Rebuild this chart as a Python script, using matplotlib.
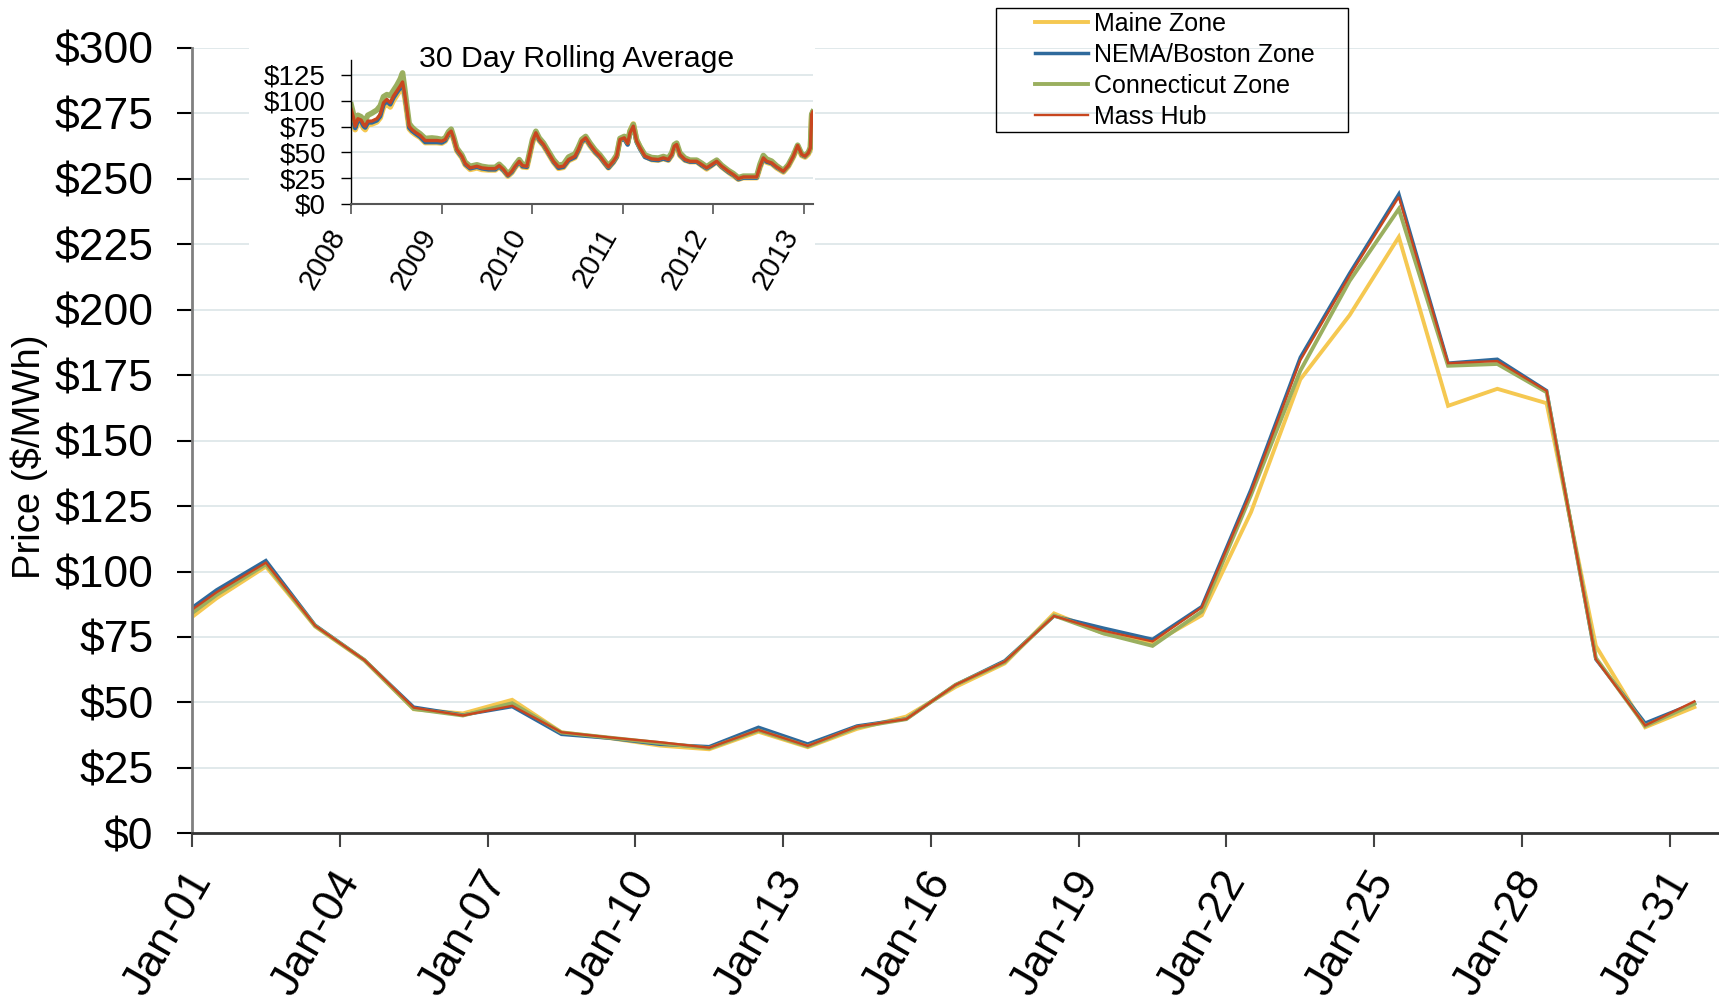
#Imports
import numpy as np
import pandas as pd
import matplotlib
matplotlib.use('Agg')
import matplotlib.pyplot as plt
from matplotlib.ticker import MultipleLocator, FuncFormatter
from matplotlib.transforms import ScaledTranslation
from matplotlib.patches import Rectangle

plt.rcParams['font.family'] = ['Liberation Sans', 'DejaVu Sans']

#Daily prices, Dec-31 to Jan-31 (plotted at noon of each day)
days = pd.date_range('2012-12-31 12:00', '2013-01-31 12:00', freq='D')
maine = [75.4, 89.8, 101.9, 79.0, 66.0, 47.4, 45.8, 51.0, 38.6, 36.3, 33.5, 32.1, 38.8, 32.9, 39.9, 44.6,
         55.9, 64.9, 84.0, 76.4, 72.5, 83.3, 122.7, 173.4, 197.9, 227.8, 163.3, 169.8, 164.3, 71.6, 40.5, 48.2]
nema = [79.4, 93.0, 104.2, 79.5, 66.2, 48.2, 45.2, 48.4, 37.8, 36.3, 34.0, 33.1, 40.5, 34.1, 41.0, 43.7,
        56.7, 65.9, 83.0, 78.4, 74.1, 86.6, 131.4, 181.8, 213.9, 244.2, 179.6, 181.1, 169.1, 66.5, 42.1, 49.7]
conn = [77.1, 91.1, 102.8, 79.2, 66.2, 47.5, 45.0, 49.7, 38.5, 36.5, 34.5, 32.5, 39.3, 33.2, 40.5, 43.6,
        56.7, 65.4, 83.2, 76.4, 71.6, 84.7, 129.3, 176.7, 211.0, 238.5, 178.6, 179.3, 168.5, 67.0, 41.0, 49.5]
masshub = [78.7, 92.1, 103.4, 79.3, 66.2, 48.0, 45.0, 48.7, 38.6, 36.6, 34.8, 32.7, 39.5, 33.4, 40.8, 43.6,
           56.7, 65.6, 83.0, 77.4, 73.3, 86.3, 130.5, 180.7, 213.0, 243.1, 179.6, 180.4, 169.0, 66.5, 41.2, 50.4]

#30 day rolling average (decimal years)
roll_years = [2008.000, 2008.026, 2008.044, 2008.074, 2008.110, 2008.136, 2008.155, 2008.184, 2008.228, 2008.283,
              2008.320, 2008.357, 2008.394, 2008.431, 2008.467, 2008.504, 2008.541, 2008.567, 2008.589, 2008.615,
              2008.640, 2008.670, 2008.707, 2008.762, 2008.817, 2008.891, 2008.946, 2009.001, 2009.038, 2009.075,
              2009.104, 2009.130, 2009.167, 2009.222, 2009.259, 2009.314, 2009.388, 2009.443, 2009.516, 2009.590,
              2009.634, 2009.682, 2009.730, 2009.774, 2009.811, 2009.855, 2009.892, 2009.940, 2009.969, 2010.002,
              2010.039, 2010.076, 2010.124, 2010.179, 2010.234, 2010.289, 2010.344, 2010.400, 2010.471, 2010.508,
              2010.545, 2010.589, 2010.637, 2010.692, 2010.747, 2010.803, 2010.840, 2010.895, 2010.932, 2010.968,
              2011.016, 2011.053, 2011.079, 2011.115, 2011.152, 2011.189, 2011.244, 2011.318, 2011.391, 2011.447,
              2011.502, 2011.539, 2011.568, 2011.594, 2011.630, 2011.686, 2011.741, 2011.815, 2011.870, 2011.925,
              2011.981, 2012.036, 2012.091, 2012.165, 2012.220, 2012.275, 2012.330, 2012.404, 2012.478, 2012.514,
              2012.551, 2012.588, 2012.643, 2012.698, 2012.772, 2012.827, 2012.882, 2012.930, 2012.975, 2013.012,
              2013.048, 2013.071, 2013.085, 2013.096]
roll_maine = [90, 80, 72, 79, 78, 73.5, 72, 77, 77.5, 79.5, 83.5, 94, 97, 94, 100.5, 105.5, 110.5, 114.5, 105, 89,
              73, 70, 67.5, 64.5, 59.5, 59.5, 59.5, 59, 61, 67, 69.5, 63, 51.5, 45, 38, 33.5, 35, 33.5, 33, 33,
              36, 32.5, 27, 30.5, 35.5, 40.5, 36, 35.5, 46.5, 59.5, 68, 61.5, 56.5, 48.5, 40.5, 34.5, 35.5, 42, 45, 51.5,
              59.5, 63, 56.5, 50, 45.5, 39, 35, 40.5, 46, 62.5, 64.5, 59, 70.5, 77.5, 62, 55, 46.5, 43, 42.5, 44,
              42.5, 47, 55, 56.5, 47, 42.5, 41, 41, 37.5, 34, 37.5, 41, 36, 31, 27.5, 24, 25.5, 25.5, 25.5, 35.5,
              43.5, 40.5, 39, 35, 31, 36.5, 45.5, 55.5, 47, 45.5, 48.5, 53.5, 85.5, 88]
roll_nema = [90.5, 81.5, 73.5, 81, 80, 75.5, 74, 79, 79, 81, 85, 96.5, 99.5, 96.5, 103, 108, 112.5, 116.5, 106.5, 90.5,
             74, 71, 68.5, 65, 60, 60, 60, 59.5, 61.5, 67.5, 70, 63.5, 52, 45.5, 38.5, 34.5, 36, 34.5, 33.5, 33.5,
             36.5, 32.5, 27.5, 31, 36, 41, 36.5, 36, 47.5, 60.5, 68.5, 62, 57, 49, 41, 35, 36, 42.5, 45.5, 52,
             60, 63.5, 57, 50.5, 45.5, 39, 35, 40.5, 45.5, 61.5, 63, 57.5, 68, 74.5, 60, 53.5, 45.5, 43, 42.5, 44,
             42.5, 47.5, 55.5, 57, 47.5, 42.5, 41, 41, 37.5, 34.5, 37.5, 41, 36, 31, 28, 24, 25.5, 25.5, 25.5, 36,
             44, 41, 39.5, 35.5, 31.5, 37, 46, 56.5, 47.5, 46, 49.5, 54.5, 87, 89.5]
roll_conn = [96, 86.5, 79, 86, 84.5, 81, 81, 86, 88, 91, 95, 104, 106, 105, 110, 115, 121, 127, 113, 95,
             78, 74.5, 71.5, 68, 63.5, 64, 63.5, 62.5, 64, 70, 72.5, 65.5, 54, 47.5, 40.5, 36.5, 38, 36.5, 35.5, 35.5,
             38.5, 34.5, 29, 33, 38, 43, 38.5, 38, 49.5, 62.5, 70.5, 64, 59, 51, 43, 37.5, 38.5, 45.5, 48.5, 55,
             62.5, 65.5, 59, 52.5, 47.5, 41, 37, 42.5, 47.5, 63.5, 65.5, 60, 70.5, 77, 62, 55.5, 47.5, 45, 44.5, 46,
             44.5, 49.5, 57.5, 59, 49.5, 44.5, 42.5, 42.5, 39.5, 36, 39.5, 42.5, 37.5, 32.5, 29.5, 25.5, 27, 27, 27, 38.5,
             47, 43.5, 41.5, 37, 32.5, 38, 47, 57, 48.5, 47, 50, 55, 87, 89]
roll_masshub = [91.6, 83.5, 75.4, 82.6, 81.3, 77.0, 75.4, 80.3, 80.3, 82.6, 86.8, 98.1, 101.3, 98.1, 104.6, 109.4,
                114.3, 118.2, 107.8, 91.6, 75.4, 72.2, 69.6, 66.4, 61.5, 61.5, 61.5, 60.9, 62.5, 68.3, 70.6, 64.1,
                52.8, 46.3, 39.2, 35.0, 36.6, 35.0, 34.3, 34.3, 37.2, 33.4, 27.8, 31.7, 36.6, 41.4, 37.2, 36.6,
                47.9, 60.9, 69.0, 62.5, 57.6, 49.5, 41.4, 35.9, 36.6, 43.1, 46.3, 52.8, 60.9, 64.1, 57.6, 51.2,
                46.3, 39.8, 35.9, 41.4, 46.3, 62.5, 64.1, 58.6, 69.0, 75.4, 60.9, 54.4, 46.3, 43.7, 43.1, 44.7,
                43.1, 47.9, 56.0, 57.6, 47.9, 43.1, 41.4, 41.4, 38.2, 35.0, 38.2, 41.4, 36.6, 31.7, 28.5, 24.6,
                26.2, 26.2, 26.2, 36.6, 44.7, 41.4, 39.8, 35.9, 31.7, 37.2, 46.3, 56.7, 47.9, 46.3, 49.5, 54.4,
                86.8, 89.0]

zones = ['Maine Zone', 'NEMA/Boston Zone', 'Connecticut Zone', 'Mass Hub']
colors = ['#F5C851', '#2F6A9C', '#9AAF5F', '#C8461F']
widths = [2.8, 2.5, 2.8, 1.7]
daily = [maine, nema, conn, masshub]
rolling = [roll_maine, roll_nema, roll_conn, roll_masshub]

W, H = 1719, 1005
fig = plt.figure(figsize=(W / 100, H / 100), dpi=100)

#Main chart
ax = fig.add_axes([192 / W, 1 - 833.3 / H, 1 - 192 / W, (833.3 - 48) / H])
ax.set_zorder(0)
for vals, c, lw, name in zip(daily, colors, widths, zones):
    ax.plot(days, vals, color=c, lw=lw, label=name, solid_joinstyle='miter')

ax.set_ylim(0, 300)
ax.set_xlim(pd.Timestamp('2013-01-01'), pd.Timestamp('2013-02-01'))
ax.yaxis.set_major_locator(MultipleLocator(25))
ax.yaxis.set_major_formatter(FuncFormatter(lambda v, p: '${:.0f}'.format(v)))
ticks = pd.date_range('2013-01-01', '2013-01-31', freq='3D')
ax.set_xticks(ticks)
ax.set_xticklabels([t.strftime('%b-%d') for t in ticks])
ax.grid(axis='y', color='#dbe5e8', lw=1.2)
ax.set_axisbelow(True)
for s in ['top', 'right']:
    ax.spines[s].set_visible(False)
ax.spines['left'].set_color('#808080')
ax.spines['left'].set_linewidth(2)
ax.spines['bottom'].set_color('#333333')
ax.spines['bottom'].set_linewidth(2)
ax.tick_params(axis='y', length=10.8, width=1.5, pad=17, labelsize=32)
ax.tick_params(axis='x', length=10, width=1.5, pad=12, labelsize=32, color='#444444')
shift = ScaledTranslation(0.28, 0, fig.dpi_scale_trans)
for lab in ax.get_xticklabels():
    lab.set_rotation(60)
    lab.set_ha('right')
    lab.set_va('top')
    lab.set_transform(lab.get_transform() + shift)

fig.text(29.6 / W, 1 - 457 / H, 'Price ($/MWh)', rotation=90, fontsize=27.5, ha='center', va='center')

#Legend with its own frame
fig.add_artist(Rectangle((995.5 / W, 1 - 131.6 / H), 352 / W, 124 / H, transform=fig.transFigure,
                         fill=False, edgecolor='black', lw=1, zorder=3))
fig.legend(*ax.get_legend_handles_labels(), loc='upper left', bbox_to_anchor=(1035 / W, 1 - 12 / H),
           frameon=False, fontsize=18, handlelength=2.1, handletextpad=0.27, labelspacing=0.28,
           borderpad=0, borderaxespad=0)

#White area behind the inset
fig.add_artist(Rectangle((249 / W, 1 - 300 / H), 566 / W, 262 / H, transform=fig.transFigure,
                         facecolor='white', edgecolor='none', zorder=1))

#Inset: 30 day rolling average
axi = fig.add_axes([351.2 / W, 1 - 204 / H, 5.1 * 90.56 / W, 144 / H])
axi.set_zorder(2)
for vals, c, lw in zip(rolling, colors, [4.0, 3.2, 4.0, 2.4]):
    axi.plot(roll_years, vals, color=c, lw=lw)
axi.set_xlim(2008, 2013.1)
axi.set_ylim(0, 139.5)
axi.yaxis.set_major_locator(MultipleLocator(25))
axi.yaxis.set_major_formatter(FuncFormatter(lambda v, p: '${:.0f}'.format(v)))
years = [2008, 2009, 2010, 2011, 2012, 2013]
axi.set_xticks(years)
axi.set_xticklabels([str(y) for y in years])
axi.grid(axis='y', color='#dbe5e8', lw=1.2)
axi.set_axisbelow(True)
for s in ['top', 'right']:
    axi.spines[s].set_visible(False)
axi.spines['left'].set_linewidth(1)
axi.spines['bottom'].set_color('#555555')
axi.spines['bottom'].set_linewidth(1.5)
axi.tick_params(axis='y', length=7.2, width=1, pad=11, labelsize=20)
axi.tick_params(axis='x', length=7.2, width=1.2, pad=7, labelsize=21, color='#555555')
shift_i = ScaledTranslation(0.0, 0, fig.dpi_scale_trans)
for lab in axi.get_xticklabels():
    lab.set_rotation(60)
    lab.set_ha('right')
    lab.set_va('top')
    lab.set_transform(lab.get_transform() + shift_i)

fig.text(576.3 / W, 1 - 58.8 / H, '30 Day Rolling Average', fontsize=21.8, ha='center', va='center')

plt.savefig('out.png', dpi=100)
plt.close()
